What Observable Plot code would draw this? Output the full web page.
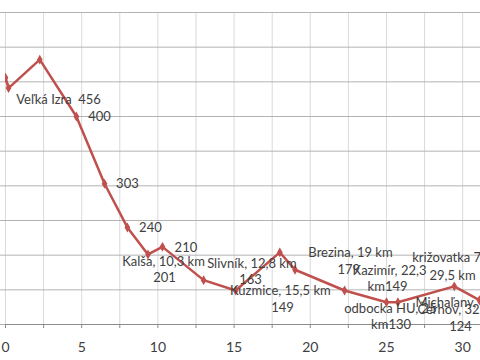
<!DOCTYPE html>
<html>
<head>
<meta charset="utf-8">
<script src="https://cdn.jsdelivr.net/npm/d3@7"></script>
<script src="https://cdn.jsdelivr.net/npm/@observablehq/plot@0.6"></script>
<style>
  html, body { margin: 0; padding: 0; background: #fff; overflow: hidden; }
  svg { display: block; }
</style>
</head>
<body>
<div id="chart"></div>
<script>
// Route profile: distance (km) vs elevation (m)
const km = [0, 0.2, 2.25, 4.65, 6.5, 8.0, 9.35, 10.3, 13.0, 15.1, 18.0, 19.0, 22.25, 25.0, 25.75, 29.45, 31.1, 32.2];
const elevation = [456, 441, 482, 400, 303, 240, 201, 212, 164, 149, 204, 179, 149, 132, 132, 155, 135, 124];

// Data label texts with their anchor (km, m)
const labelText = [
  "Veľká Izra  456", "400", "303", "240",
  "Kalša, 10,3 km", "201", "210",
  "Slivník, 12,8 km", "163",
  "Kuzmice, 15,5 km", "149",
  "Brezina, 19 km", "179",
  "Kazimír, 22,3", "km149",
  "odbocka HU, 25", "km130",
  "križovatka 79,", "29,5 km 155",
  "Michaľany, 31,1", "Čerhov, 32,2", "124"
];
const labelKm = [3.48, 6.17, 8.0, 9.51, 10.37, 10.43, 11.84, 16.17, 16.08, 18.04, 18.18, 22.64, 22.53, 25.2, 25.07, 25.26, 25.3, 26.69, 27.82, 26.9, 27.03, 29.86];
const labelM = [424, 400, 303, 240, 190, 168, 210.5, 188, 164, 148, 124, 204, 179, 178, 154, 122.6, 100, 196, 170.6, 131.7, 121.6, 97];
const labelAnchor = ["middle", "middle", "middle", "middle", "middle", "middle", "middle", "middle", "middle", "middle", "middle", "middle", "middle", "middle", "middle", "middle", "middle", "start", "start", "start", "start", "middle"];

const xTickLabels = [0, 5, 10, 15, 20, 25, 30];
const xGrid = [0, 2.5, 5, 7.5, 10, 12.5, 15, 17.5, 20, 22.5, 25, 27.5, 30];
const yGrid = [100, 150, 200, 250, 300, 350, 400, 450, 500, 550];

const points = km.map((k, i) => ({km: k, m: elevation[i]}));
const labels = labelText.map((t, i) => ({text: t, km: labelKm[i], m: labelM[i], anchor: labelAnchor[i]}));

const font = "Lato, 'Open Sans', sans-serif";
const chart = Plot.plot({
  width: 480,
  height: 360,
  marginLeft: 5,
  marginRight: 0,
  marginTop: 12,
  marginBottom: 36,
  style: {fontFamily: font, fontSize: "13px", color: "#404040", background: "#fff"},
  x: {domain: [0, 31.17], label: null},
  y: {domain: [100, 550], label: null},
  marks: [
    Plot.ruleX(xGrid, {stroke: "#d9d9d9", strokeWidth: 1}),
    Plot.ruleY(yGrid, {stroke: "#b3b3b3", strokeWidth: 1}),
    Plot.ruleY([100], {stroke: "#8c8c8c", strokeWidth: 1}),
    Plot.axisY({ticks: yGrid, tickSize: 5, tickFormat: () => "", stroke: "#b3b3b3", label: null}),
    Plot.axisX({ticks: xGrid, tickSize: 4, tickFormat: () => "", stroke: "#8c8c8c", label: null}),
    Plot.axisX({ticks: xTickLabels, tickSize: 0, tickPadding: 18, fontSize: 14, fill: "#404040", label: null}),
    Plot.line(points, {x: "km", y: "m", stroke: "#c0504d", strokeWidth: 2.5, clip: true}),
    Plot.dot(points, {x: "km", y: "m", symbol: "diamond", r: 3, fill: "#c0504d", stroke: "none", clip: true}),
    Plot.text(labels.filter(d => d.anchor === "middle"), {x: "km", y: "m", text: "text", textAnchor: "middle", fill: "#404040", fontSize: 13}),
    Plot.text(labels.filter(d => d.anchor === "start"), {x: "km", y: "m", text: "text", textAnchor: "start", fill: "#404040", fontSize: 13})
  ]
});
document.getElementById("chart").appendChild(chart);
</script>
</body>
</html>
